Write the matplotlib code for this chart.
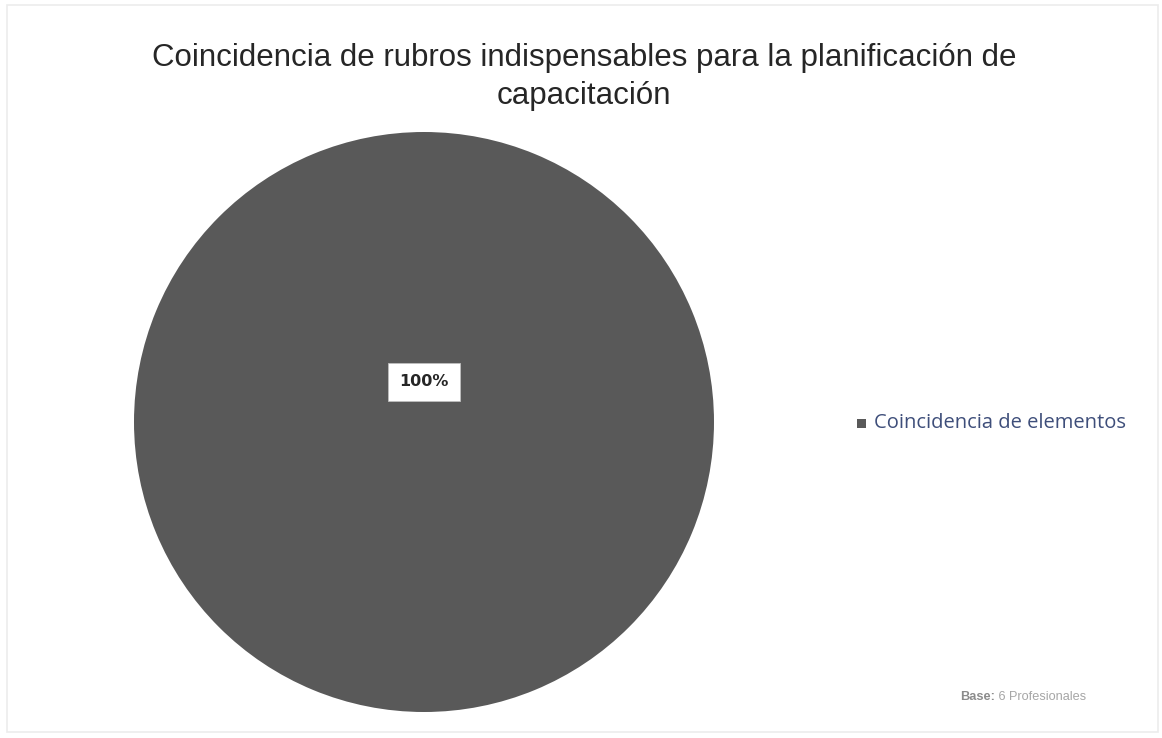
import matplotlib
matplotlib.use("Agg")
import matplotlib.pyplot as plt
from matplotlib.patches import Rectangle

# Chart data
categories = ["Coincidencia de elementos"]
values = [100]
pie_colors = ["#595959"]
title = "Coincidencia de rubros indispensables para la planificación de\ncapacitación"
base_label = "Base:"
base_text = " 6 Profesionales"

W, H = 1162, 738
fig = plt.figure(figsize=(W / 100, H / 100), dpi=100)
fig.patch.set_facecolor("white")

# faint frame around the chart area
fig.add_artist(Rectangle((7 / W, 1 - 732 / H), (1158 - 7) / W, (732 - 5) / H,
                         transform=fig.transFigure, fill=False,
                         edgecolor="#ececec", linewidth=1.2))

ax = fig.add_axes([134 / W, 1 - 712 / H, 580 / W, 580 / H])
wedges, _ = ax.pie(values, colors=pie_colors, startangle=90, counterclock=False,
                   radius=1.0, wedgeprops=dict(linewidth=0))
ax.set_aspect("equal")
ax.set_xlim(-1, 1)
ax.set_ylim(-1, 1)
ax.axis("off")

total = sum(values)
for v in values:
    ax.text(0.0, 0.138, f"{v / total * 100:.0f}%", ha="center", va="center",
            fontsize=11.5, fontweight="bold", color="#262626",
            family="DejaVu Sans",
            bbox=dict(boxstyle="square,pad=0.7", facecolor="white",
                      edgecolor="#bfbfbf", linewidth=0.6))

fig.text(584 / W, 1 - 77 / H, title, ha="center", va="center",
         fontsize=22.5, color="#262626", family="Liberation Sans",
         linespacing=1.35)

# legend entry
fig.add_artist(Rectangle((857 / W, 1 - 428 / H), 9 / W, 9 / H,
                         transform=fig.transFigure, facecolor=pie_colors[0],
                         edgecolor="none"))
fig.text(874 / W, 1 - 423 / H, categories[0], ha="left", va="center",
         fontsize=14.5, color="#3e4e7a", family="Open Sans")

# sample size note
t1 = fig.text(960 / W, 1 - 697 / H, base_label, ha="left", va="center",
              fontsize=9.2, fontweight="bold", color="#8c8c8c",
              family="Liberation Sans")
fig.canvas.draw()
bb = t1.get_window_extent()
fig.text(bb.x1 / W, 1 - 697 / H, base_text, ha="left", va="center",
         fontsize=9.2, color="#a6a6a6", family="Liberation Sans")

fig.savefig("out.png", dpi=100, facecolor="white")
